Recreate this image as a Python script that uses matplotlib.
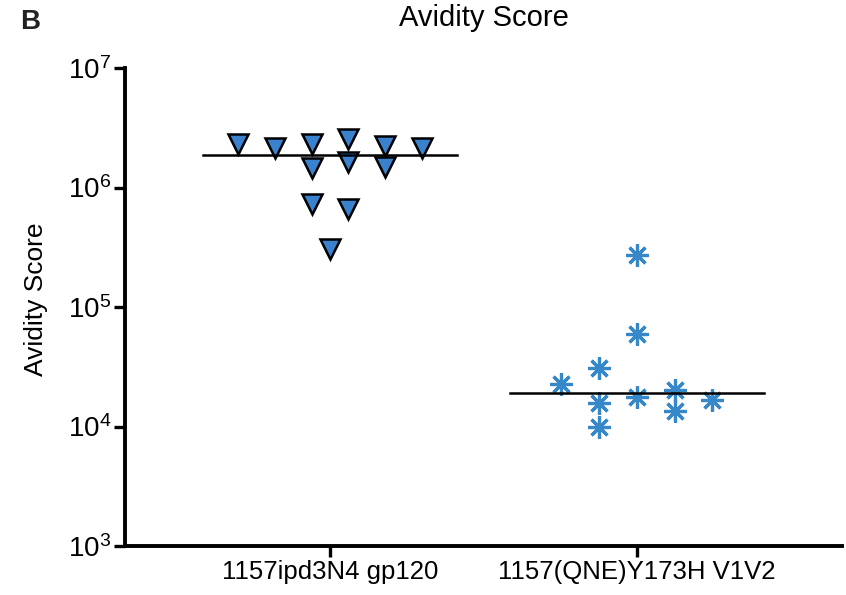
import numpy as np
import matplotlib
matplotlib.use("Agg")
import matplotlib.pyplot as plt
from matplotlib.ticker import LogLocator, NullLocator

plt.rcParams['font.family'] = ['Liberation Sans', 'DejaVu Sans']
plt.rcParams['mathtext.fontset'] = 'custom'
plt.rcParams['mathtext.rm'] = 'Liberation Sans'

groups = ['1157ipd3N4 gp120', '1157(QNE)Y173H V1V2']

# avidity scores per antigen, with the horizontal column offset of each point
gp120_vals = [2.31e6, 2.14e6, 2.32e6, 2.56e6, 2.21e6, 2.14e6,
              1.45e6, 1.62e6, 1.48e6, 7.25e5, 6.58e5, 3.07e5]
gp120_cols = [-2.5, -1.5, -0.5, 0.5, 1.5, 2.5,
              -0.5, 0.5, 1.5, -0.5, 0.5, 0.0]

v1v2_vals = [2.26e4, 3.10e4, 1.58e4, 1.0e4, 2.72e5,
             5.91e4, 1.76e4, 2.02e4, 1.35e4, 1.67e4]
v1v2_cols = [-2, -1, -1, -1, 0, 0, 0, 1, 1, 2]

fig = plt.figure(figsize=(8.46, 5.95), dpi=100)
ax = fig.add_axes([125 / 846, 49 / 595, 717 / 846, 478 / 595])

tri_color = '#3A82CD'
star_color = '#3788C9'

x0 = 0 + 0.12 * np.array(gp120_cols)
ax.plot(x0, gp120_vals, linestyle='none', marker='v', ms=14.5,
        mfc=tri_color, mec='black', mew=1.8, zorder=3)

x1 = 1 + 0.123 * np.array(v1v2_cols)
ax.plot(x1, v1v2_vals, linestyle='none', marker=(8, 2, 0), ms=16,
        color=star_color, mew=2.3, zorder=3)

# median lines
for i, vals in enumerate([gp120_vals, v1v2_vals]):
    m = np.median(vals)
    ax.plot([i - 0.415, i + 0.415], [m, m], color='black', lw=1.8, zorder=4)

ax.set_yscale('log')
ax.set_ylim(1e3, 1e7)
ax.set_xlim(-0.668, 1.668)
ax.yaxis.set_major_locator(LogLocator(base=10, numticks=10))
ax.yaxis.set_minor_locator(NullLocator())
ax.set_xticks([0, 1])
ax.set_xticklabels(groups, fontsize=18.5)
ax.tick_params(axis='y', labelsize=20)
ax.tick_params(axis='both', direction='out', length=8, width=2.4,
               color='black', pad=2)

for side in ['top', 'right']:
    ax.spines[side].set_visible(False)
for side in ['left', 'bottom']:
    ax.spines[side].set_linewidth(2.8)

ax.set_ylabel('Avidity Score', fontsize=19)
ax.yaxis.set_label_coords(-0.108, 0.517)
ax.set_title('Avidity Score', fontsize=21, pad=30)

fig.text(30 / 846, 1 - 22 / 595, 'B', fontsize=20, fontweight='bold',
         color='#222222', ha='center', va='center')

fig.savefig('out.png', dpi=100)
